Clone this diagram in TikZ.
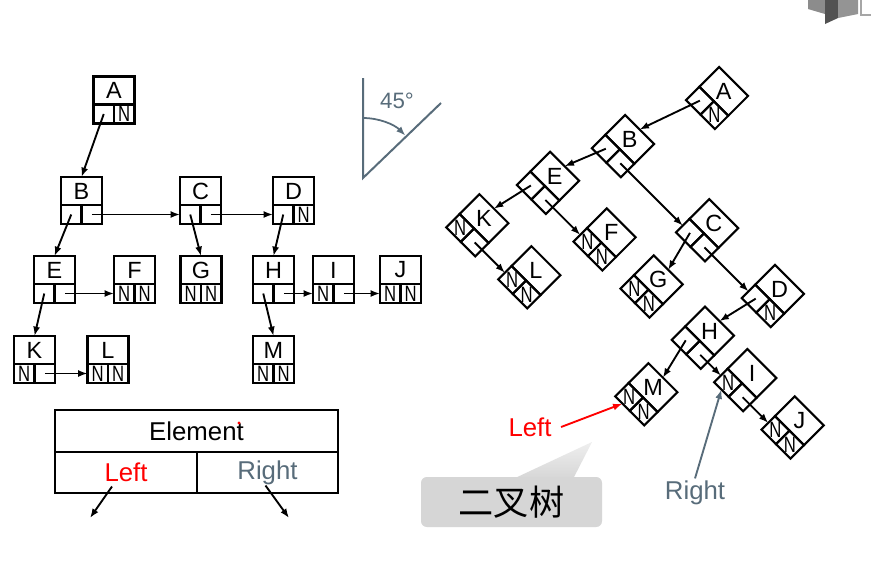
\documentclass[tikz,border=0pt]{standalone}
\usepackage{fontspec}
\setmainfont{Liberation Sans}
\newfontfamily\cjk{Noto Sans CJK SC}
\usetikzlibrary{arrows.meta,calc}
\definecolor{slate}{RGB}{88,108,122}
\definecolor{bubblegray}{RGB}{214,214,214}
\tikzset{
  toppart/.style={draw, line width=1.8pt, inner sep=0pt, outer sep=0pt,
    minimum width=1.23cm, minimum height=0.84cm},
  cellpart/.style={draw, line width=1.8pt, inner sep=0pt, outer sep=0pt,
    minimum width=0.615cm, minimum height=0.57cm},
  letter/.style={inner sep=0pt, font=\fontsize{20}{22}\selectfont},
  nullmark/.style={inner sep=0pt, font=\fontsize{19}{21}\selectfont},
  link/.style={line width=1.6pt, ->},
  legendcell/.style={draw, line width=1.8pt, inner sep=0pt, outer sep=0pt,
    font=\fontsize{22}{26}\selectfont},
  tag/.style={inner sep=2pt, font=\fontsize{22}{26}\selectfont},
}
\begin{document}
\begin{tikzpicture}[x=0.03cm, y=-0.03cm, >={Latex[length=8pt,width=6pt]}]
    \useasboundingbox (0,0) rectangle (871,579);
    \fill[white] (0,0) rectangle (871,579);
    %% both trees: plain, then turned 45 degrees
    \foreach \tr/\ox/\oy/\rot in {l/114/100/0, r/717/98/-45} {
        \begin{scope}[shift={(\ox,\oy)}, rotate=\rot, shift={(-114,-100)}]
        \foreach \n/\x/\y/\lc/\rc in {A/114/100/{}/N, B/81.5/200.5/{}/{},
            C/200.5/200.5/{}/{}, D/293.5/200.5/{}/N, E/54.5/279.5/{}/{},
            F/134.5/279.5/N/N, G/201/279.5/N/N, H/273.5/279.5/{}/{},
            I/333.5/279.5/N/{}, J/400.5/279.5/N/N, K/34.5/359.5/N/{},
            L/108/359.5/N/N, M/273.5/359.5/N/N} {
            \node[toppart, rotate=\rot] (\tr\n) at (\x,\y-9.5) {};
            \node[cellpart, rotate=\rot] (\tr\n-l) at (\x-10.25,\y+14) {};
            \node[cellpart, rotate=\rot] (\tr\n-r) at (\x+10.25,\y+14) {};
            \node[letter] (\tr\n-t) at (\tr\n) {\n};
            \node[nullmark] (\tr\n-lt) at (\tr\n-l) {\scalebox{0.75}[1]{\lc}};
            \node[nullmark] (\tr\n-rt) at (\tr\n-r) {\scalebox{0.75}[1]{\rc}};
        }
        %% first child
        \foreach \src/\dst in {A/B, B/E, C/G, D/H, E/K, H/M} {
            \draw[link] (\tr\src-l.center) -- (\tr\dst.north);
        }
        %% next sibling
        \foreach \src/\dst in {B/C, C/D, E/F, H/I, I/J, K/L} {
            \draw[link] (\tr\src-r.center) -- (\tr\dst-l.west);
        }
        \end{scope}
    }
    %% 45 degree sign
    \draw[slate, line width=1.7pt] (363,78) -- (363,178) -- (441,103);
    \draw[slate, line width=1.5pt, ->] (363,118) arc[start angle=90, end angle=45, radius=1.8cm];
    \node[text=slate, inner sep=0pt, font=\fontsize{19}{22}\selectfont] (deg) at (397,101) {45°};
    %% node layout
    \node[legendcell, minimum width=8.49cm, minimum height=1.26cm] (elem) at (196.5,431) {Element};
    \node[legendcell, minimum width=4.26cm, minimum height=1.23cm, text=red] (lcell) at (126,472.5) {Left};
    \node[legendcell, minimum width=4.23cm, minimum height=1.23cm, text=slate] (rcell) at (267.5,472.5) {Right};
    \fill[red] (239,423) circle (1.3pt);
    \coordinate (lend) at (90,518);
    \coordinate (rend) at (289,518);
    \draw[link] ($(lcell.center)+(-14,14)$) -- (lend);
    \draw[link] ($(rcell.center)+(-2,13)$) -- (rend);
    %% callouts on the right tree
    \node[tag, text=red] (lefttag) at (530,427) {Left};
    \draw[red, line width=1.6pt, ->] ($(lefttag.east)+(7,0)$) -- (rM-l.south);
    \node[tag, text=slate] (righttag) at (695,493) {Right};
    \draw[slate, line width=1.6pt, ->] (righttag.north) -- (rI-l.south);
    \shade[top color=bubblegray!40, bottom color=bubblegray] (513,479) -- (592,442) -- (573,479) -- cycle;
    \node[fill=bubblegray, rounded corners=5pt, minimum width=5.43cm, minimum height=1.5cm,
        font=\fontsize{30}{34}\selectfont] (bubble) at (511.5,502) {\cjk 二叉树};
    %% corner logo
    \fill[black!45] (808,0) -- (825,0) -- (825,14) -- (808,9) -- cycle;
    \fill[black!68] (825,0) -- (838,0) -- (838,18) -- (825,24) -- cycle;
    \fill[black!42] (838,0) -- (858,0) -- (858,14) -- (838,18) -- cycle;
    \draw[black!35, line width=1pt] (861,0) -- (861,15) -- (871,15);
\end{tikzpicture}
\end{document}
